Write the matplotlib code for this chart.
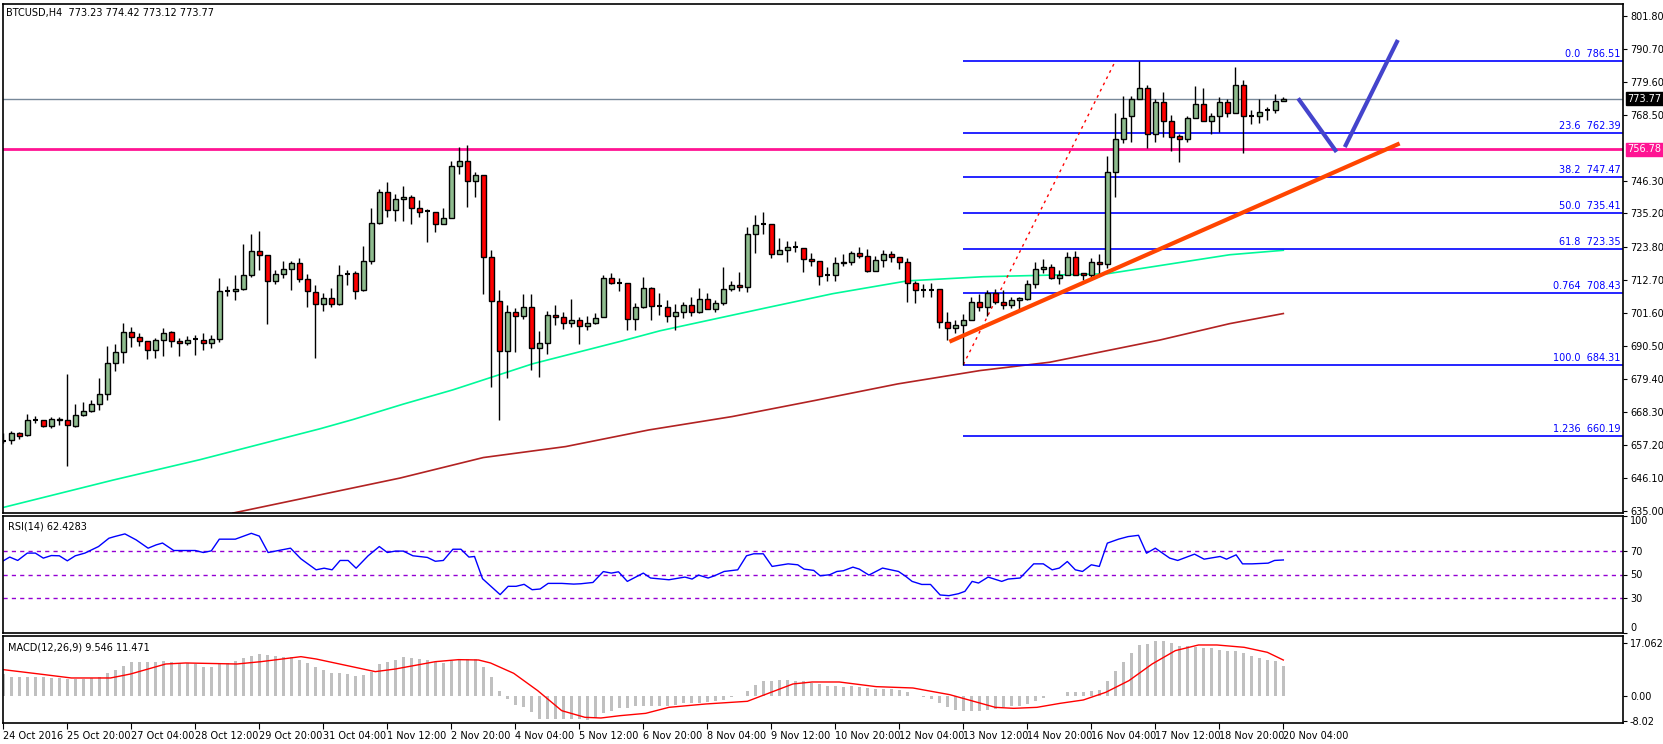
import matplotlib
matplotlib.use("Agg")
import matplotlib.pyplot as plt
import matplotlib.transforms as mtrans
import numpy as np

# ---- data (H4 candles, index 0..160) ----
opens = [658.7, 658.9, 661.3, 660.6, 665.6, 665.6, 663.5, 666.0, 665.6, 663.5,
         667.3, 668.7, 671.0, 674.4, 684.9, 688.6, 695.3, 693.6, 692.3, 689.3,
         692.6, 695.3, 692.3, 691.6, 692.8, 692.6, 691.6, 693.0, 709.2, 709.2,
         709.8, 714.6, 722.7, 721.3, 712.5, 714.9, 716.6, 718.6, 713.2, 708.8,
         704.8, 706.8, 704.8, 714.8, 715.2, 709.5, 719.3, 732.1, 742.6, 736.5,
         740.2, 740.9, 737.1, 736.0, 735.8, 731.8, 733.8, 751.3, 753.0, 746.3,
         748.0, 720.6, 705.8, 688.9, 702.1, 700.7, 703.8, 689.9, 691.6, 701.1,
         700.4, 698.4, 699.4, 697.4, 698.4, 700.4, 713.6, 711.9, 711.9, 699.7,
         703.8, 710.2, 704.1, 703.8, 700.7, 702.1, 704.4, 702.1, 706.5, 703.1,
         705.1, 709.8, 711.2, 710.5, 728.4, 731.7, 731.7, 721.6, 723.0, 723.9,
         723.7, 720.0, 719.3, 714.4, 714.6, 718.6, 719.0, 722.0, 721.0, 715.9,
         719.6, 721.6, 720.6, 719.0, 711.9, 709.5, 709.5, 709.6, 698.6, 696.7,
         697.7, 699.4, 705.5, 703.8, 708.5, 705.5, 704.4, 706.1, 706.5, 711.5,
         716.6, 717.3, 713.6, 714.6, 720.6, 715.3, 714.6, 719.0, 718.3, 749.0,
         760.4, 767.9, 773.9, 777.3, 761.8, 772.9, 766.2, 761.4, 760.4, 767.2,
         772.2, 766.2, 767.9, 772.9, 769.2, 778.3, 767.9, 767.9, 769.9, 769.9,
         773.23]
highs = [661.3, 662.1, 661.7, 667.7, 667.1, 665.8, 666.6, 666.6, 681.0, 671.0,
         671.8, 672.4, 679.9, 690.6, 691.4, 698.4, 697.0, 695.0, 692.3, 693.3,
         696.7, 695.7, 693.3, 694.0, 694.3, 695.0, 694.3, 713.6, 710.9, 714.6,
         725.0, 728.4, 729.4, 721.3, 716.2, 719.3, 719.3, 720.3, 714.9, 711.2,
         708.5, 710.2, 718.0, 716.2, 715.7, 724.1, 737.2, 743.6, 745.7, 741.9,
         744.6, 741.3, 739.9, 736.7, 735.8, 737.1, 753.0, 757.7, 758.4, 749.3,
         748.0, 723.0, 709.5, 704.4, 703.4, 708.2, 708.2, 695.7, 702.4, 704.4,
         702.1, 706.5, 700.4, 700.7, 701.7, 714.6, 715.2, 713.6, 711.9, 705.1,
         713.9, 710.5, 708.5, 706.1, 704.8, 705.5, 707.1, 710.2, 708.5, 706.1,
         717.3, 712.5, 715.6, 730.8, 734.8, 735.8, 731.7, 727.0, 726.0, 726.0,
         723.7, 722.0, 719.3, 717.3, 720.6, 721.6, 722.7, 724.0, 723.3, 721.0,
         723.0, 722.7, 720.6, 720.3, 712.5, 711.5, 711.8, 709.6, 702.0, 699.2,
         701.4, 707.0, 708.2, 709.3, 709.6, 709.3, 707.0, 707.1, 712.9, 718.7,
         720.0, 718.3, 716.0, 722.3, 722.7, 715.3, 720.3, 721.6, 754.4, 769.2,
         774.9, 774.9, 786.51, 778.6, 773.6, 776.0, 768.5, 761.8, 767.9, 778.0,
         777.3, 769.2, 774.3, 773.9, 784.4, 780.0, 769.9, 773.6, 771.2, 775.3,
         774.42]
lows = [657.8, 657.6, 659.2, 660.2, 664.5, 663.2, 662.8, 664.0, 650.2, 663.2,
        667.1, 668.2, 668.9, 672.4, 682.1, 684.9, 690.2, 690.5, 686.1, 686.5,
        687.1, 690.2, 687.1, 691.0, 687.5, 689.1, 689.8, 692.0, 707.5, 706.0,
        709.5, 713.9, 716.2, 698.0, 711.5, 713.6, 709.5, 712.2, 703.8, 686.5,
        702.5, 703.7, 704.4, 711.0, 706.4, 709.2, 718.3, 731.8, 734.0, 732.6,
        732.6, 731.6, 734.1, 725.6, 729.0, 731.8, 733.8, 748.6, 737.4, 740.9,
        708.2, 676.7, 665.7, 679.8, 688.5, 699.7, 682.5, 680.1, 687.9, 697.7,
        696.2, 697.0, 691.2, 696.0, 698.0, 700.4, 711.5, 709.2, 695.8, 695.8,
        703.4, 699.4, 701.1, 698.7, 696.0, 700.1, 700.7, 701.7, 703.1, 702.1,
        704.4, 709.2, 709.2, 708.8, 722.0, 728.4, 720.3, 721.6, 719.0, 722.3,
        715.6, 717.6, 711.2, 712.5, 712.5, 717.6, 718.0, 720.3, 715.6, 715.9,
        717.3, 718.9, 716.6, 705.5, 705.1, 707.0, 707.0, 696.7, 692.6, 694.9,
        684.31, 699.4, 702.3, 700.8, 704.8, 703.1, 703.3, 702.8, 706.1, 710.2,
        715.3, 713.2, 711.5, 714.6, 714.6, 712.9, 713.6, 714.9, 716.9, 740.9,
        759.1, 759.4, 773.6, 757.4, 759.4, 760.8, 756.4, 752.7, 759.4, 767.2,
        766.2, 761.8, 762.5, 767.7, 769.2, 755.4, 765.2, 765.8, 766.8, 769.2,
        773.12]
closes = [658.7, 661.3, 660.2, 665.6, 665.6, 663.5, 666.1, 665.8, 664.0, 667.3,
          668.7, 671.0, 674.4, 684.9, 688.6, 695.3, 693.6, 692.3, 689.3, 692.6,
          695.0, 692.3, 691.6, 692.6, 692.8, 691.6, 693.0, 709.2, 709.2, 709.8,
          714.6, 722.7, 721.3, 712.5, 714.9, 716.6, 718.6, 713.2, 709.2, 704.8,
          706.8, 704.8, 714.6, 714.8, 709.2, 719.3, 732.1, 742.6, 736.5, 740.2,
          740.9, 737.1, 735.8, 736.0, 731.8, 733.8, 751.3, 753.0, 746.3, 748.0,
          720.6, 705.8, 688.9, 702.1, 700.7, 703.8, 689.9, 691.6, 701.1, 700.4,
          698.4, 699.4, 697.4, 698.4, 700.1, 713.6, 711.9, 711.9, 699.7, 703.8,
          710.2, 704.1, 704.1, 700.7, 702.1, 704.4, 702.1, 706.5, 703.1, 705.1,
          709.8, 711.2, 710.5, 728.4, 731.4, 731.7, 721.6, 723.0, 724.0, 723.9,
          720.0, 719.3, 714.2, 714.4, 718.6, 719.0, 722.0, 721.0, 715.9, 719.6,
          721.6, 720.6, 719.0, 711.9, 709.5, 709.5, 709.5, 698.6, 696.7, 697.7,
          699.4, 705.5, 703.8, 708.5, 705.5, 704.4, 706.1, 706.8, 711.5, 716.6,
          717.3, 713.6, 714.6, 720.6, 714.6, 714.6, 719.0, 718.3, 749.0, 760.4,
          767.2, 773.9, 777.3, 761.8, 772.9, 766.2, 761.1, 760.4, 767.2, 772.2,
          766.2, 767.9, 772.6, 769.2, 778.3, 767.9, 767.9, 769.5, 769.9, 773.2,
          773.77]

# moving averages (sampled along the lines)
ma100_idx = [0, 13.7, 24.6, 39.6, 43.7, 50.0, 56.2, 66.2, 77.1, 82.1, 95.5,
             103.7, 113, 122.5, 138, 153.3, 160]
ma100_val = [636.2, 645.4, 652.3, 662.7, 665.8, 671.0, 675.8, 684.6, 692.1,
             695.7, 703.5, 708.2, 712.5, 713.9, 714.9, 721.3, 722.8]
ma200_idx = [28.7, 49.6, 60, 70.3, 80.7, 91.1, 101.4, 111.8, 122.1, 130.8,
             144.6, 153.3, 160]
ma200_val = [634.3, 646.1, 653.0, 656.7, 662.3, 666.8, 672.2, 677.8, 682.3,
             685.1, 692.6, 698.1, 701.5]

fib_names = ["0.0", "23.6", "38.2", "50.0", "61.8", "0.764", "100.0", "1.236"]
fib_levels = [786.51, 762.39, 747.47, 735.41, 723.35, 708.43, 684.31, 660.19]
fib_start = 120

support_level = 756.78
last_price = 773.77
trend_pts = [(118.5, 692.3), (174.3, 758.5)]
fib_diag = [(120, 684.31), (139.0, 786.51)]
path_pts = [(162, 773.4), (166.5, 756.5)]
path_pts2 = [(167.8, 758.2), (174.2, 793.0)]

price_ticks = [801.80, 790.70, 779.60, 768.50, 746.30, 735.20, 723.80, 712.70,
               701.60, 690.50, 679.40, 668.30, 657.20, 646.10, 635.00]

rsi_idx = [0, 0.8, 1.8, 3, 4, 5, 6, 7, 8, 9, 10.2, 11.9, 13.2, 13.9, 15.2, 16.6,
           18.1, 19.1, 19.9, 21.3, 22.8, 24, 25, 26, 27, 29, 31, 32, 33.1, 35.9,
           37.2, 39.1, 40.1, 41.1, 42.1, 43.1, 44.1, 45.6, 47, 48, 49, 50, 51.2,
           53, 54, 55, 56.2, 57.2, 58.2, 58.9, 59.9, 62.1, 63.1, 64.1, 65.1,
           66.1, 67.1, 68.1, 69.8, 71.3, 72.2, 73.7, 75, 76, 76.9, 78.0, 80.0,
           80.9, 83.2, 85.2, 86.1, 86.9, 88.1, 88.9, 90.1, 91.8, 92.9, 93.8,
           95.0, 96.1, 98.1, 99.3, 100.1, 101.3, 102.1, 103.3, 104.2, 105.0,
           106.2, 107.0, 108.2, 109.9, 111.9, 112.8, 113.6, 114.8, 115.9, 117.1,
           118.2, 119.4, 120.2, 121.1, 121.9, 123.1, 124.8, 125.6, 127.1, 128.8,
           130.0, 131.1, 132.0, 133.0, 134.0, 134.9, 136.0, 137.0, 138.0, 139.4,
           140.6, 141.9, 142.9, 144.0, 145.8, 146.8, 148.9, 150.1, 152.1, 152.9,
           154.1, 154.9, 156.1, 158.1, 158.9, 160]
rsi_val = [61.7, 64.9, 62.0, 68.3, 68.3, 64.0, 66.2, 66.0, 61.7, 66.0, 68.3,
           73.9, 81.0, 82.4, 84.7, 79.6, 72.5, 75.3, 76.9, 70.5, 70.5, 70.5,
           68.8, 70.2, 80.2, 80.2, 85.2, 82.8, 68.8, 72.5, 63.4, 54.0, 55.4,
           54.0, 62.0, 62.0, 55.4, 66.0, 73.9, 68.8, 70.0, 70.0, 66.0, 64.6,
           61.3, 62.0, 71.6, 71.6, 64.9, 65.4, 46.4, 32.8, 39.9, 39.9, 41.6,
           37.0, 37.6, 42.4, 42.4, 41.8, 42.1, 43.2, 52.5, 51.2, 52.3, 44.1,
           51.2, 47.0, 45.5, 47.8, 46.1, 49.5, 47.0, 48.9, 52.6, 54.0, 66.0,
           67.7, 67.7, 56.9, 59.1, 58.3, 54.6, 53.5, 48.9, 49.8, 52.6, 53.2,
           56.3, 54.6, 49.5, 55.5, 52.6, 48.4, 44.1, 41.5, 41.5, 32.5, 31.9,
           33.6, 35.6, 44.1, 42.7, 47.8, 44.1, 46.1, 47.0, 59.1, 59.1, 54.0,
           55.5, 61.1, 54.0, 52.6, 58.3, 56.9, 76.8, 80.2, 82.4, 83.5, 68.2,
           72.5, 64.0, 62.0, 67.4, 63.1, 65.4, 63.1, 66.8, 59.1, 59.1, 59.7,
           62.0, 62.43]

macd_main = [6.97, 6.12, 6.12, 6.12, 6.12, 5.9, 5.69, 5.69, 5.37, 5.37, 5.37,
             5.69, 5.9, 7.19, 8.26, 9.66, 10.73, 10.94, 10.94, 10.94, 11.27,
             10.94, 10.52, 10.52, 10.19, 9.34, 9.12, 10.19, 10.41, 11.27, 12.02,
             12.88, 13.52, 13.2, 12.88, 12.55, 12.55, 11.59, 10.41, 9.34, 8.37,
             7.3, 7.19, 6.97, 6.44, 6.65, 7.51, 10.19, 10.73, 11.59, 12.34,
             12.12, 11.91, 11.48, 10.73, 10.41, 11.27, 11.8, 11.8, 11.8, 9.34,
             5.9, 1.61, -1.07, -2.9, -3.76, -5.37, -7.4, -7.4, -7.62, -7.62,
             -7.62, -7.62, -7.83, -7.3,
             -5.69, -4.83, -4.08, -4.08, -3.2, -3.2, -3.2, -3.2, -3.2, -2.9,
             -2.47, -2.47, -2.47, -2.15, -1.82, -1.39, -0.54, 0.0, 1.61, 3.54,
             4.83, 4.83, 5.04, 5.04, 4.83, 4.61, 4.18, 3.76, 3.0, 3.0,
             2.9, 3.0, 2.68, 2.36, 2.15, 2.15, 2.15, 1.82, 1.07, 0.0,
             -0.54, -1.07, -2.47, -3.76, -4.61, -5.04, -4.83, -4.83, -4.5, -4.29,
             -3.76, -3.43, -3.2, -2.68, -1.82, -0.75, -0.2, 0.0, 1.18, 1.18,
             1.18, 1.61, 1.93, 4.83, 8.05, 10.94, 13.73, 16.31, 16.63, 17.7,
             17.7, 16.95, 16.1, 16.1, 15.77, 15.34, 15.24, 14.7, 14.49, 14.49,
             13.63, 12.77, 12.12, 11.59, 11.05, 9.55]
sig_idx = [0, 4.5, 8.5, 13.4, 15.9, 20.3, 22.8, 29.2, 32.2, 37.2, 39.1, 46.5,
           49, 54, 56.9, 59.4, 60.9, 63.8, 66.8, 69.8, 72.7, 74.7, 77.1, 80.3,
           83.2, 87.8, 93, 98.7, 101.1, 104.5, 109.1, 113.7, 118.3, 124, 126.3,
           129.2, 132.1, 135, 137.8, 140.7, 143.6, 146.5, 149.4, 151.7, 155.1,
           158, 160]
sig_val = [8.37, 6.97, 5.69, 5.69, 6.97, 10.19, 10.52, 10.19, 10.94, 12.55,
           11.8, 7.73, 8.58, 10.94, 11.59, 11.48, 10.52, 7.19, 1.61, -4.83,
           -6.97, -7.19, -6.44, -5.69, -3.76, -2.68, -1.82, 3.76, 4.4, 4.4, 2.9,
           2.47, 0.32, -3.76, -4.08, -3.76, -2.47, -1.39, 1.07, 4.83, 10.19,
           14.49, 16.31, 16.31, 15.56, 13.95, 11.47]

date_labels = ["24 Oct 2016", "25 Oct 20:00", "27 Oct 04:00", "28 Oct 12:00",
               "29 Oct 20:00", "31 Oct 04:00", "1 Nov 12:00", "2 Nov 20:00",
               "4 Nov 04:00", "5 Nov 12:00", "6 Nov 20:00", "8 Nov 04:00",
               "9 Nov 12:00", "10 Nov 20:00", "12 Nov 04:00", "13 Nov 12:00",
               "14 Nov 20:00", "16 Nov 04:00", "17 Nov 12:00", "18 Nov 20:00",
               "20 Nov 04:00"]

# ---- figure ----
W, H = 1663, 744
fig = plt.figure(figsize=(W / 100, H / 100), dpi=100)
fig.patch.set_facecolor("white")
FS = 7
plt.rcParams["font.family"] = "DejaVu Sans"


def panel(top, bottom):
    return fig.add_axes([3 / W, 1 - bottom / H, 1620 / W, (bottom - top) / H])


ax = panel(4, 513)
ar = panel(516, 633)
am = panel(636, 723)
XL = (-0.04, 202.46)
for a in (ax, ar, am):
    a.set_xlim(*XL)
    a.yaxis.tick_right()
    a.tick_params(axis="y", length=3, labelsize=FS, pad=2, direction="out")
    a.tick_params(axis="x", length=0, labelbottom=False)
    for s in a.spines.values():
        s.set_linewidth(1.2)

# candles
x = np.arange(len(closes))
o, h, l, c = map(np.array, (opens, highs, lows, closes))
ax.vlines(x, l, h, color="black", lw=1, zorder=2)
up = c > o
dn = c < o
eq = c == o
bw = 0.62
ax.bar(x[up], (c - o)[up], bottom=o[up], width=bw, color="#8fbc8f",
       edgecolor="black", lw=1, zorder=3)
ax.bar(x[dn], (o - c)[dn], bottom=c[dn], width=bw, color="#ff0000",
       edgecolor="black", lw=1, zorder=3)
ax.hlines(c[eq], x[eq] - bw / 2, x[eq] + bw / 2, color="black", lw=1.5, zorder=3)

ax.plot(ma100_idx, ma100_val, color="#00fa9a", lw=1.2, zorder=1)
ax.plot(ma200_idx, ma200_val, color="#b22222", lw=1.2, zorder=1)

ax.axhline(support_level, color="#ff1493", lw=2, zorder=1)
ax.axhline(last_price, color="#778899", lw=1, zorder=1)
for name, lv in zip(fib_names, fib_levels):
    ax.hlines(lv, fib_start, XL[1], color="#0000ff", lw=1.2, zorder=1)
    ax.text(XL[1] - 0.3, lv + 0.6, f"{name}  {lv:.2f}", color="#0000ff",
            fontsize=FS, ha="right", va="bottom")
ax.plot(*zip(*fib_diag), color="red", lw=1, ls=(0, (2, 3)), zorder=1)
ax.plot(*zip(*trend_pts), color="#ff4500", lw=3, zorder=4)
ax.plot(*zip(*path_pts), color="#4444cc", lw=3, zorder=4)
ax.plot(*zip(*path_pts2), color="#4444cc", lw=3, zorder=4)

ax.set_ylim(635 - 0.3373 * 2, 801.8 + 0.3373 * 11.7)
ax.set_yticks(price_ticks)
ax.set_yticklabels([f"{t:.2f}" for t in price_ticks])
bt = mtrans.blended_transform_factory(ax.transAxes, ax.transData)
ax.text(1.0025, last_price, f"{last_price:.2f}", transform=bt, color="white",
        fontsize=FS, va="center", ha="left",
        bbox=dict(boxstyle="square,pad=0.15", fc="black", ec="black"))
ax.text(1.0025, support_level, f"{support_level:.2f}", transform=bt,
        color="white", fontsize=FS, va="center", ha="left",
        bbox=dict(boxstyle="square,pad=0.15", fc="#ff1493", ec="#ff1493"))
ax.text(0.002, 0.993, "BTCUSD,H4  773.23 774.42 773.12 773.77",
        transform=ax.transAxes, fontsize=FS, va="top")

# RSI
for lv in (70, 50, 30):
    ar.axhline(lv, color="#9400d3", lw=1, ls=(0, (3, 3)))
ar.plot(rsi_idx, rsi_val, color="#0000ff", lw=1)
ar.set_ylim(0, 100)
ar.set_yticks([100, 70, 50, 30, 0])
for lbl in ar.get_yticklabels():
    if lbl.get_text() == "100":
        lbl.set_va("top")
    elif lbl.get_text() == "0":
        lbl.set_va("bottom")
ar.text(0.003, 0.95, "RSI(14) 62.4283", transform=ar.transAxes,
        fontsize=FS, va="top")

# MACD
am.bar(x, macd_main, width=0.45, color="#c0c0c0", zorder=1)
am.plot(sig_idx, sig_val, color="red", lw=1, zorder=2)
am.set_ylim(-8.8, 19.2)
am.set_yticks([17.062, 0.0, -8.02])
am.set_yticklabels(["17.062", "0.00", "-8.02"])
am.text(0.003, 0.92, "MACD(12,26,9) 9.546 11.471", transform=am.transAxes,
        fontsize=FS, va="top")
am.set_xticks(np.arange(0, 161, 8))
am.set_xticklabels(date_labels, ha="left", fontsize=FS)
am.tick_params(axis="x", length=4, labelbottom=True, pad=2)

fig.savefig("out.png", dpi=100, facecolor="white")
